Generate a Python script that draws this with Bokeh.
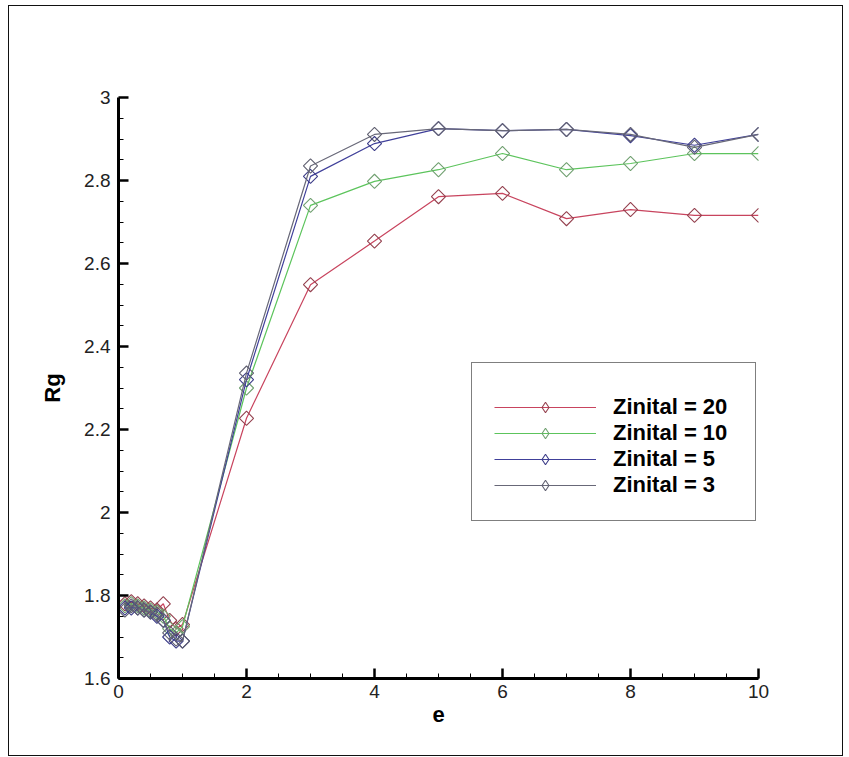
import numpy as np
from bokeh.plotting import figure
from bokeh.models import Legend, LegendItem, FixedTicker, Range1d
from bokeh.embed import file_html
from bokeh.resources import INLINE

e = [0.1, 0.2, 0.3, 0.4, 0.5, 0.6, 0.7, 0.8, 0.9, 1.0, 2, 3, 4, 5, 6, 7, 8, 9, 10]
rg_z20 = [1.78, 1.785, 1.78, 1.775, 1.77, 1.765, 1.78, 1.74, 1.72, 1.73,
          2.227, 2.549, 2.654, 2.761, 2.769, 2.708, 2.730, 2.716, 2.716]
rg_z10 = [1.775, 1.78, 1.775, 1.77, 1.765, 1.76, 1.75, 1.72, 1.71, 1.725,
          2.300, 2.740, 2.798, 2.826, 2.865, 2.826, 2.841, 2.865, 2.865]
rg_z5 = [1.77, 1.77, 1.77, 1.765, 1.76, 1.75, 1.74, 1.70, 1.69, 1.69,
         2.320, 2.810, 2.889, 2.925, 2.920, 2.923, 2.908, 2.885, 2.911]
rg_z3 = [1.765, 1.775, 1.77, 1.765, 1.76, 1.755, 1.74, 1.71, 1.695, 1.69,
         2.336, 2.835, 2.911, 2.925, 2.920, 2.923, 2.911, 2.880, 2.911]

labels = ["Zinital = 20", "Zinital = 10", "Zinital = 5", "Zinital = 3"]
series = [rg_z20, rg_z10, rg_z5, rg_z3]
line_colors = ["#c8445e", "#5cc45c", "#40409a", "#686878"]
marker_colors = ["#94404e", "#70a070", "#3c3c88", "#606070"]

x_ticks = [0, 2, 4, 6, 8, 10]
y_ticks = [1.6, 1.8, 2.0, 2.2, 2.4, 2.6, 2.8, 3.0]

p = figure(width=835, height=751, output_backend="svg", toolbar_location=None,
           x_range=Range1d(0, 10), y_range=Range1d(1.6, 3.0),
           min_border_left=109, min_border_right=86, min_border_top=91, min_border_bottom=79,
           margin=(5, 0, 0, 8))
p.styles = {"border": "1.5px solid #111111"}
p.outline_line_color = None
p.xgrid.visible = False
p.ygrid.visible = False

items = []
for lab, ys, lc, mc in zip(labels, series, line_colors, marker_colors):
    r1 = p.line(e, ys, line_color=lc, line_width=1.2)
    p.scatter(e, ys, marker="square", angle=np.pi / 4, size=10,
              fill_color=None, line_color=mc, line_width=1.1)
    # legend-only marker (diamond shape, not drawn in the plot)
    r3 = p.scatter(e, ys, marker="diamond", size=17,
                   fill_color=None, line_color=mc, line_width=1.1, visible=False)
    items.append(LegendItem(label=lab, renderers=[r1, r3]))

for ax in (p.xaxis[0], p.yaxis[0]):
    ax.axis_line_width = 3
    ax.axis_line_color = "black"
    ax.major_tick_in = 10
    ax.major_tick_out = 0
    ax.minor_tick_in = 5
    ax.minor_tick_out = 0
    ax.major_tick_line_width = 2.5
    ax.minor_tick_line_width = 1
    ax.major_tick_line_color = "black"
    ax.minor_tick_line_color = "black"
    ax.major_label_text_font = "Liberation Sans"
    ax.major_label_text_font_size = "19px"
    ax.major_label_text_color = "#222222"
    ax.axis_label_text_font = "Liberation Sans"
    ax.axis_label_text_font_size = "22px"
    ax.axis_label_text_font_style = "bold"
    ax.axis_label_text_color = "black"

p.xaxis[0].ticker = FixedTicker(ticks=x_ticks, minor_ticks=list(np.arange(0, 10.01, 0.5)))
p.yaxis[0].ticker = FixedTicker(ticks=y_ticks, minor_ticks=list(np.arange(1.6, 3.001, 0.05)))
p.xaxis[0].axis_label = "e"
p.yaxis[0].axis_label = "Rg"
p.xaxis[0].major_label_standoff = 6
p.yaxis[0].major_label_standoff = 8
p.xaxis[0].axis_label_standoff = 6
p.yaxis[0].axis_label_standoff = 16

legend = Legend(items=items, location=(353, 157), orientation="vertical",
                border_line_color="black", border_line_width=1,
                background_fill_color="white", background_fill_alpha=1,
                padding=22, spacing=0, margin=0,
                title=" ", title_text_font_size="2px", title_standoff=7,
                glyph_width=102, glyph_height=26, label_height=26, label_width=120,
                label_standoff=17,
                label_text_font="Liberation Sans", label_text_font_size="22px",
                label_text_font_style="bold", label_text_color="black")
p.add_layout(legend)

open("out.html", "w").write(file_html(p, INLINE))
